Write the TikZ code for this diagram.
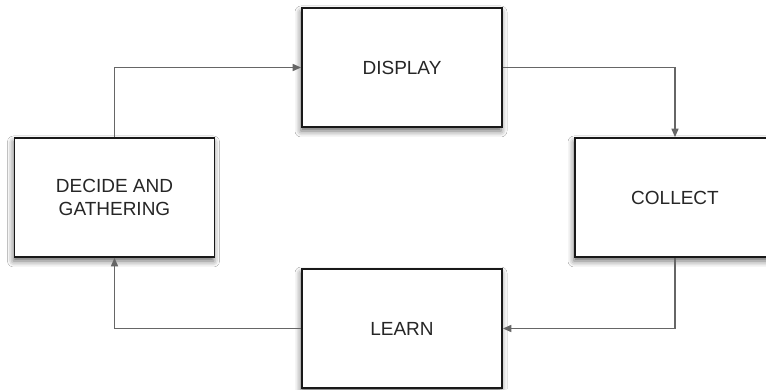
\documentclass[tikz,border=0pt]{standalone}
\usepackage{fontspec}
\setmainfont{Liberation Sans}
\usetikzlibrary{arrows.meta,shadows.blur}
\definecolor{linegray}{HTML}{666666}
\definecolor{textgray}{HTML}{262626}
\tikzset{
  stagebox/.style={draw=black!90, line width=1.7pt, fill=white,
    minimum width=200pt, minimum height=119pt, inner sep=0pt,
    align=center, text=textgray, font=\fontsize{19}{23.5}\selectfont,
    blur shadow={shadow xshift=-1pt, shadow yshift=-4pt,
      shadow blur radius=6pt, shadow opacity=60}},
  flow/.style={draw=linegray, line width=1.5pt,
    -{Triangle[length=8.5pt,width=7pt]}}
}
\begin{document}
\begin{tikzpicture}[x=1pt,y=1pt]
  \useasboundingbox (0,0) rectangle (766,389);
  \fill[white] (0,0) rectangle (766,389);
  \begin{scope}
    \clip (0,0) rectangle (766,389);
    \node[stagebox] (disp)  at (402,321.5) {DISPLAY};
    \node[stagebox] (dec)   at (114.5,191.5) {DECIDE AND\\GATHERING};
    \node[stagebox] (col)   at (675,191.5) {COLLECT};
    \node[stagebox] (learn) at (402,60.5) {LEARN};
    \draw[flow] (dec.north) |- (disp.west);
    \draw[flow] (disp.east) -| (col.north);
    \draw[flow] (col.south) |- (learn.east);
    \draw[flow] (learn.west) -| (dec.south);
  \end{scope}
\end{tikzpicture}
\end{document}
